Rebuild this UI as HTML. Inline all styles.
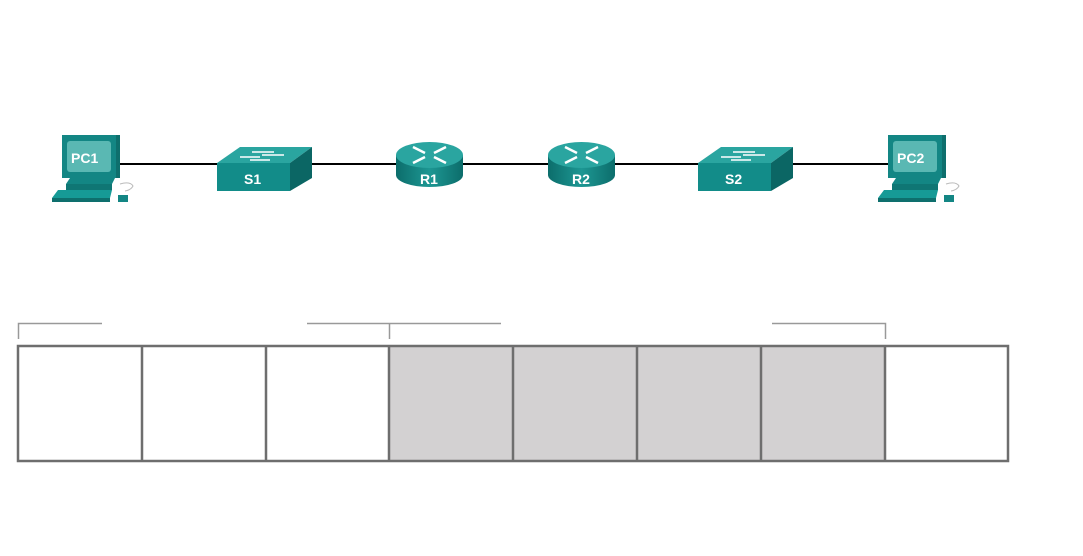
<!DOCTYPE html>
<html><head><style>body{margin:0;background:#fff}svg{display:block}text{font-family:"Liberation Sans",sans-serif;font-weight:bold;fill:#fff}</style></head><body>
<svg width="1083" height="556" viewBox="0 0 1083 556" xmlns="http://www.w3.org/2000/svg">
<defs>
<linearGradient id="rg" x1="0" x2="1"><stop offset="0" stop-color="#0c6d6b"/><stop offset="0.5" stop-color="#1d9793"/><stop offset="1" stop-color="#0c6d6b"/></linearGradient>
<g id="pc">
<rect x="62" y="135" width="58" height="43" fill="#138684"/>
<rect x="67" y="141" width="44" height="31" rx="3" fill="#5ab8b3"/>
<rect x="116" y="135" width="4" height="43" fill="#0e6f6d"/>
<polygon points="70,178 115,178 112,184 66,184" fill="#138684"/>
<rect x="66" y="184" width="46" height="6" fill="#0f7674"/>
<polygon points="58,190 112,190 110,198 52,198" fill="#169a96"/>
<rect x="52" y="198" width="58" height="4" fill="#0e6f6d"/>
<rect x="118" y="195" width="10" height="7" fill="#138684"/>
<path d="M120,184 q10,-3 13,2 q-2,4 -8,5" fill="none" stroke="#bbb" stroke-width="1"/>
</g>
<g id="sw">
<polygon points="217,163 240,147 312,147 290,163" fill="#2aa5a0"/>
<rect x="217" y="163" width="73" height="28" fill="#128c89"/>
<polygon points="290,163 312,147 312,178 290,191" fill="#0b6664"/>
<path d="M252,152h22M250,160h20M262,155h22M240,157h20" stroke="#fff" stroke-width="1.5"/>
</g>
<g id="rt">
<path d="M396,155 v20 a33.5,12 0 0 0 67,0 v-20z" fill="url(#rg)"/>
<ellipse cx="429.5" cy="155" rx="33.5" ry="13" fill="#2aa5a0"/>
<path d="M413,147 l12,6 M446,147 l-12,6 M413,163 l12,-6 M446,163 l-12,-6" stroke="#fff" stroke-width="2.5"/>
</g>
</defs>
<line x1="118" y1="164" x2="900" y2="164" stroke="#000" stroke-width="2"/>
<use href="#pc"/>
<text x="71" y="163" font-size="14">PC1</text>
<use href="#pc" transform="translate(826,0)"/>
<text x="897" y="163" font-size="14">PC2</text>
<use href="#sw"/>
<text x="244" y="184" font-size="14">S1</text>
<use href="#sw" transform="translate(481,0)"/>
<text x="725" y="184" font-size="14">S2</text>
<use href="#rt"/>
<text x="420" y="184" font-size="14">R1</text>
<use href="#rt" transform="translate(152,0)"/>
<text x="572" y="184" font-size="14">R2</text>
<g stroke="#999" stroke-width="1.5" fill="none">
<path d="M18.5,339 V323.5 H102"/>
<path d="M307,323.5 H501 M389.5,323.5 V339"/>
<path d="M772,323.5 H885.5 V339"/>
</g>
<rect x="389" y="346" width="496" height="115" fill="#d3d1d2"/>
<g stroke="#6e6e6e" stroke-width="2.5" fill="none">
<rect x="18" y="346" width="990" height="115"/>
<path d="M142,346V461M266,346V461M389,346V461M513,346V461M637,346V461M761,346V461M885,346V461"/>
</g>
</svg>
</body></html>
